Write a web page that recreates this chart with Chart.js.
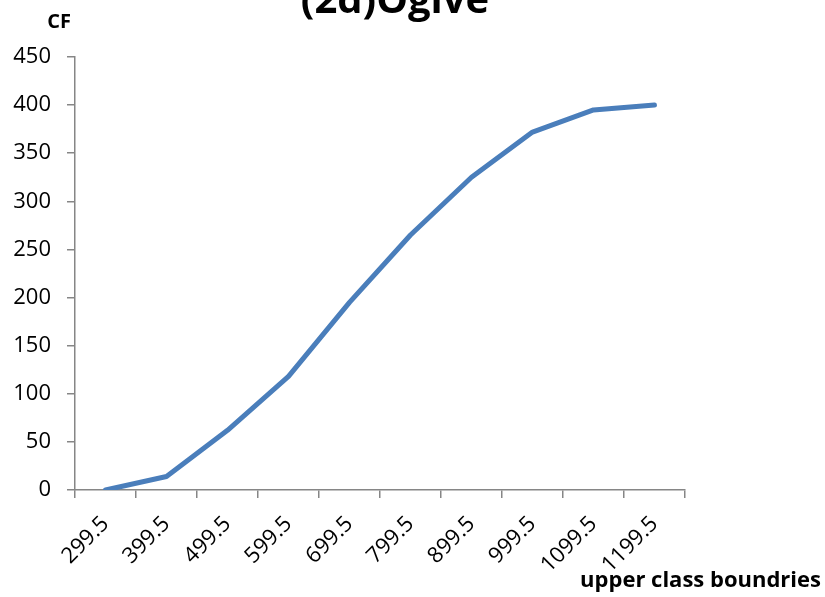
<!DOCTYPE html>
<html>
<head>
<meta charset="utf-8">
<script src="https://cdn.jsdelivr.net/npm/chart.js@4.4.0/dist/chart.umd.min.js"></script>
<style>
html,body{margin:0;padding:0;background:#fff;}
#wrap{position:relative;width:825px;height:597px;}
</style>
</head>
<body>
<div id="wrap"><canvas id="c" width="825" height="597"></canvas></div>
<script>
const categories = ["299.5","399.5","499.5","599.5","699.5","799.5","899.5","999.5","1099.5","1199.5"];
const cfValues = [0, 14, 62, 118, 195, 265, 325, 372, 395, 400];
const yTicks = [0, 50, 100, 150, 200, 250, 300, 350, 400, 450];
const chartTitle = "(2d)Ogive";
const yAxisTitle = "CF";
const xAxisTitle = "upper class boundries";

const FONT = "'Open Sans', 'Noto Sans', sans-serif";
const AXIS = '#868686';

const textPlugin = {
  id: 'texts',
  afterDraw(chart) {
    const ctx = chart.ctx;
    ctx.save();
    ctx.fillStyle = '#000';
    ctx.textBaseline = 'alphabetic';
    ctx.font = "bold 40px " + FONT;
    ctx.textAlign = 'center';
    ctx.fillText(chartTitle, 395, 13);
    ctx.font = "bold 20px " + FONT;
    ctx.fillText(yAxisTitle, 59, 28);
    ctx.font = "bold 22px " + FONT;
    ctx.textAlign = 'right';
    ctx.fillText(xAxisTitle, 821, 587);
    ctx.restore();
  }
};

new Chart(document.getElementById('c'), {
  type: 'line',
  data: {
    labels: categories,
    datasets: [{
      data: cfValues,
      borderColor: '#4A7EBB',
      borderWidth: 5,
      pointRadius: 0,
      tension: 0,
      fill: false,
      borderCapStyle: 'round',
      borderJoinStyle: 'round'
    }]
  },
  options: {
    responsive: false,
    animation: false,
    devicePixelRatio: 1,
    layout: { padding: { left: 0, top: 57, right: 140, bottom: 0 } },
    plugins: { legend: { display: false }, tooltip: { enabled: false }, title: { display: false } },
    scales: {
      x: {
        type: 'category',
        offset: true,
        grid: { offset: true, drawOnChartArea: false, drawTicks: true, tickLength: 8, color: AXIS, lineWidth: 1.5 },
        border: { display: true, color: AXIS, width: 1.5 },
        ticks: { color: '#000', font: { family: FONT, size: 22 }, maxRotation: 45, minRotation: 45, padding: 13, autoSkip: false },
        afterFit(scale) { scale.height = 107; }
      },
      y: {
        min: 0, max: 450,
        afterBuildTicks(scale) { scale.ticks = yTicks.map(v => ({ value: v })); },
        grid: { drawOnChartArea: false, drawTicks: true, tickLength: 8, color: AXIS, lineWidth: 1.5 },
        border: { display: true, color: AXIS, width: 1.5 },
        ticks: { color: '#000', font: { family: FONT, size: 22 }, padding: 16 },
        afterFit(scale) { scale.width = 75; }
      }
    }
  },
  plugins: [textPlugin]
});
</script>
</body>
</html>
